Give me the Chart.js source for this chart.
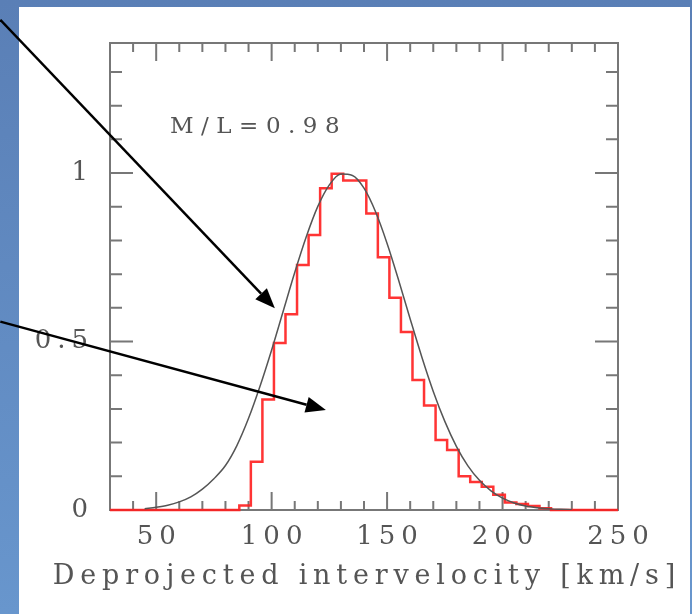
<!DOCTYPE html>
<html>
<head>
<meta charset="utf-8">
<script src="https://cdn.jsdelivr.net/npm/chart.js@4.4.1/dist/chart.umd.min.js"></script>
<style>
  html, body { margin: 0; padding: 0; }
  body {
    width: 692px; height: 614px; overflow: hidden; position: relative;
    background: linear-gradient(180deg, #5a7fb6 0%, #6896cd 100%);
  }
  #panel { position: absolute; left: 19px; top: 7px; width: 671px; height: 607px; background: #fff; }
  #chart { position: absolute; left: 0; top: 0; }
</style>
</head>
<body>
<div id="panel"></div>
<canvas id="chart" width="692" height="614"></canvas>
<script>
// histogram (red steps): left bin edge -> normalised count
const histEdges = [30, 86, 91, 96, 101, 106, 111, 116, 121, 126,
  131, 136, 141, 146, 151, 156, 161, 166, 171, 176,
  181, 186, 191, 196, 201, 206, 211, 216, 221, 250];
const histHeights = [0, 0.013, 0.143, 0.328, 0.496, 0.581, 0.727, 0.816, 0.955, 0.998,
  0.978, 0.978, 0.88, 0.75, 0.63, 0.528, 0.386, 0.31, 0.208, 0.178,
  0.10, 0.083, 0.069, 0.045, 0.022, 0.018, 0.012, 0.005, 0, 0];

// smooth model curve (thin grey line)
const curveV = [45, 50, 55, 60, 65, 70, 75, 80, 85, 90, 95, 100, 105, 110, 115, 120, 125, 130,
  135, 140, 145, 150, 155, 160, 165, 170, 175, 180, 185, 190, 195, 200, 205, 210, 215, 220, 225, 230];
const curveH = [0.004, 0.008, 0.014, 0.024, 0.039, 0.062, 0.093, 0.132, 0.192, 0.272, 0.368, 0.475,
  0.590, 0.705, 0.811, 0.901, 0.965, 0.997, 0.993, 0.955, 0.885, 0.791, 0.682, 0.567, 0.455,
  0.352, 0.263, 0.189, 0.131, 0.088, 0.057, 0.035, 0.021, 0.012, 0.007, 0.004, 0.002, 0.001];

const xTicks = [50, 100, 150, 200, 250];
const yTicks = [0, 0.5, 1];
const xTitle = "Deprojected intervelocity [km/s]";
const noteText = "M/L=0.98";
const notePos = { x: 56, y: 1.137 };

// arrows: [tail, tip] in data units (tails run off the left edge)
const arrows = [
  [{ x: -17.5, y: 1.455 }, { x: 101.4, y: 0.599 }],
  [{ x: -17.5, y: 0.559 }, { x: 123.5, y: 0.297 }],
];

const FONT = "'DejaVu Serif', serif";
const TEXT = "#555";

const spacing = {
  id: "spacing",
  beforeDraw(chart) { chart.ctx.letterSpacing = "6px"; },
};

// box + inward ticks on all four sides, plus texts and arrows
const frame = {
  id: "frame",
  beforeDatasetsDraw(chart) {
    const { ctx, chartArea: a, scales: { x, y } } = chart;
    ctx.save();
    ctx.strokeStyle = "#777";
    ctx.lineWidth = 2;
    ctx.strokeRect(a.left, a.top, a.right - a.left, a.bottom - a.top);
    ctx.beginPath();
    for (let v = 40; v < 250; v += 10) {
      const px = x.getPixelForValue(v);
      const len = v % 50 === 0 ? 18 : 9;
      ctx.moveTo(px, a.bottom); ctx.lineTo(px, a.bottom - len);
      ctx.moveTo(px, a.top); ctx.lineTo(px, a.top + len);
    }
    for (let k = 1; k <= 13; k++) {
      const py = y.getPixelForValue(k / 10);
      const len = k % 5 === 0 ? 23 : 12;
      ctx.moveTo(a.left, py); ctx.lineTo(a.left + len, py);
      ctx.moveTo(a.right, py); ctx.lineTo(a.right - len, py);
    }
    ctx.stroke();
    ctx.restore();
  },
  afterDraw(chart) {
    const { ctx, chartArea: a, scales: { x, y } } = chart;
    ctx.save();
    ctx.fillStyle = TEXT;
    ctx.textBaseline = "middle";
    // axis title
    ctx.letterSpacing = "5.8px";
    ctx.font = "27px " + FONT;
    ctx.textAlign = "center";
    ctx.fillText(xTitle, (a.left + a.right) / 2 + 2.9, a.bottom + 67);
    // label inside the plot
    ctx.letterSpacing = "7.5px";
    ctx.font = "23px " + FONT;
    ctx.textAlign = "left";
    ctx.fillText(noteText, x.getPixelForValue(notePos.x), y.getPixelForValue(notePos.y));
    // arrows
    ctx.strokeStyle = "#000";
    ctx.fillStyle = "#000";
    ctx.lineWidth = 2.5;
    arrows.forEach(([s, e]) => {
      const x0 = x.getPixelForValue(s.x), y0 = y.getPixelForValue(s.y);
      const x1 = x.getPixelForValue(e.x), y1 = y.getPixelForValue(e.y);
      const ang = Math.atan2(y1 - y0, x1 - x0);
      const hl = 20, hw = 8;
      const bx = x1 - hl * Math.cos(ang), by = y1 - hl * Math.sin(ang);
      ctx.beginPath();
      ctx.moveTo(x0, y0); ctx.lineTo(bx, by);
      ctx.stroke();
      ctx.beginPath();
      ctx.moveTo(x1, y1);
      ctx.lineTo(bx + hw * Math.sin(ang), by - hw * Math.cos(ang));
      ctx.lineTo(bx - hw * Math.sin(ang), by + hw * Math.cos(ang));
      ctx.closePath();
      ctx.fill();
    });
    ctx.restore();
  },
};

new Chart(document.getElementById("chart"), {
  type: "line",
  data: {
    datasets: [
      {
        data: histEdges.map((v, i) => ({ x: v, y: histHeights[i] })),
        stepped: "before",
        borderColor: "rgba(255,30,30,0.9)",
        borderWidth: 2.5,
        pointRadius: 0,
        clip: 4,
        order: 2,
      },
      {
        data: curveV.map((v, i) => ({ x: v, y: curveH[i] })),
        borderColor: "#555",
        borderWidth: 1.5,
        pointRadius: 0,
        cubicInterpolationMode: "monotone",
        order: 1,
      },
    ],
  },
  options: {
    responsive: false,
    animation: false,
    devicePixelRatio: 1,
    layout: { padding: { left: 0, right: 74, top: 43, bottom: 0 } },
    plugins: { legend: { display: false }, tooltip: { enabled: false } },
    scales: {
      x: {
        type: "linear",
        min: 30,
        max: 250,
        afterBuildTicks: (s) => { s.ticks = xTicks.map((v) => ({ value: v })); },
        afterFit: (s) => { s.height = 104; },
        grid: { display: false, drawTicks: false },
        border: { display: false },
        ticks: { color: TEXT, font: { family: FONT, size: 26 }, padding: 12, maxRotation: 0, labelOffset: 3 },
      },
      y: {
        type: "linear",
        min: 0,
        max: 1.386,
        afterBuildTicks: (s) => { s.ticks = yTicks.map((v) => ({ value: v })); },
        afterFit: (s) => { s.width = 110; },
        grid: { display: false, drawTicks: false },
        border: { display: false },
        ticks: { color: TEXT, font: { family: FONT, size: 26 }, padding: 16, callback: (v) => String(v) },
      },
    },
  },
  plugins: [spacing, frame],
});
</script>
</body>
</html>
